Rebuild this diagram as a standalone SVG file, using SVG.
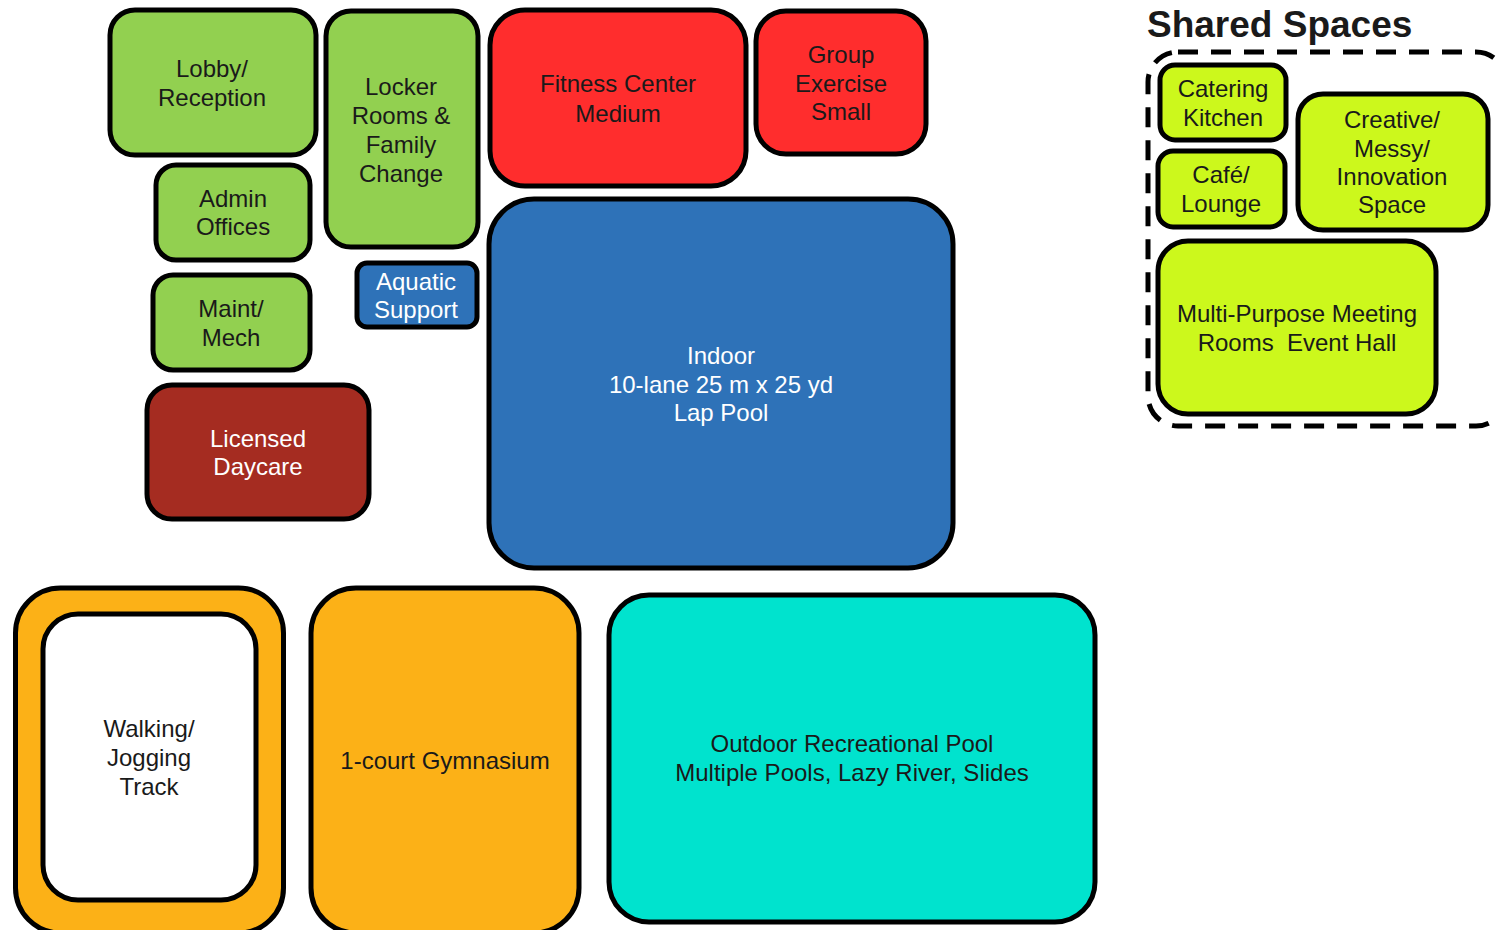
<svg xmlns="http://www.w3.org/2000/svg" width="1496" height="930" viewBox="0 0 1496 930">
<style>
  .box { stroke: #000; stroke-width: 5; }
  .green { fill: #92D050; }
  .red { fill: #FF2D2D; }
  .blue { fill: #2E72B8; }
  .brick { fill: #A52C21; }
  .orange { fill: #FCB117; }
  .teal { fill: #00E3CE; }
  .lime { fill: #CCF81C; }
  .white { fill: #FFFFFF; }
  text { font-family: "Liberation Sans", Arial, sans-serif; font-size: 24px; text-anchor: middle; fill: #1a1a1a; }
  text.lt { fill: #FFFFFF; }
  .title { font-size: 37px; font-weight: bold; text-anchor: start; }
</style>
<rect width="1496" height="930" fill="#FFFFFF"/>

<g id="lobby">
  <rect class="box green" x="110" y="10" width="206" height="145" rx="25"/>
  <text x="212" y="77">Lobby/</text>
  <text x="212" y="106">Reception</text>
</g>
<g id="locker">
  <rect class="box green" x="326" y="11" width="152" height="236" rx="25"/>
  <text x="401" y="95">Locker</text>
  <text x="401" y="124">Rooms &amp;</text>
  <text x="401" y="153">Family</text>
  <text x="401" y="182">Change</text>
</g>
<g id="admin">
  <rect class="box green" x="156" y="165" width="154" height="95" rx="20"/>
  <text x="233" y="207">Admin</text>
  <text x="233" y="235">Offices</text>
</g>
<g id="maint">
  <rect class="box green" x="153" y="275" width="157" height="95" rx="20"/>
  <text x="231" y="317">Maint/</text>
  <text x="231" y="346">Mech</text>
</g>
<g id="aquatic">
  <rect class="box blue" x="357" y="263" width="120" height="64" rx="10"/>
  <text class="lt" x="416" y="290">Aquatic</text>
  <text class="lt" x="416" y="318">Support</text>
</g>
<g id="fitness">
  <rect class="box red" x="490" y="10" width="256" height="176" rx="35"/>
  <text x="618" y="92">Fitness Center</text>
  <text x="618" y="122">Medium</text>
</g>
<g id="group">
  <rect class="box red" x="756" y="11" width="170" height="143" rx="30"/>
  <text x="841" y="63">Group</text>
  <text x="841" y="92">Exercise</text>
  <text x="841" y="120">Small</text>
</g>
<g id="indoor">
  <rect class="box blue" x="489" y="199" width="464" height="369" rx="45"/>
  <text class="lt" x="721" y="364">Indoor</text>
  <text class="lt" x="721" y="393">10-lane 25 m x 25 yd</text>
  <text class="lt" x="721" y="421">Lap Pool</text>
</g>
<g id="daycare">
  <rect class="box brick" x="147" y="385" width="222" height="134" rx="25"/>
  <text class="lt" x="258" y="447">Licensed</text>
  <text class="lt" x="258" y="475">Daycare</text>
</g>

<g id="shared">
  <text class="title" x="1147" y="37">Shared Spaces</text>
  <rect x="1148" y="52" width="358" height="374" rx="30" fill="none" stroke="#000" stroke-width="5" stroke-dasharray="20 13"/>
</g>
<g id="catering">
  <rect class="box lime" x="1160" y="65" width="126" height="75" rx="15"/>
  <text x="1223" y="97">Catering</text>
  <text x="1223" y="126">Kitchen</text>
</g>
<g id="cafe">
  <rect class="box lime" x="1158" y="151" width="127" height="76" rx="15"/>
  <text x="1221" y="183">Café/</text>
  <text x="1221" y="212">Lounge</text>
</g>
<g id="creative">
  <rect class="box lime" x="1298" y="94" width="190" height="136" rx="25"/>
  <text x="1392" y="128">Creative/</text>
  <text x="1392" y="157">Messy/</text>
  <text x="1392" y="185">Innovation</text>
  <text x="1392" y="213">Space</text>
</g>
<g id="multipurpose">
  <rect class="box lime" x="1158" y="241" width="278" height="173" rx="30"/>
  <text x="1297" y="322">Multi-Purpose Meeting</text>
  <text x="1297" y="351" xml:space="preserve" style="white-space:pre">Rooms  Event Hall</text>
</g>

<g id="track">
  <rect class="box orange" x="15.5" y="588" width="268" height="345" rx="45"/>
  <rect class="box white" x="43" y="614" width="213" height="286" rx="35"/>
  <text x="149" y="737">Walking/</text>
  <text x="149" y="766">Jogging</text>
  <text x="149" y="795">Track</text>
</g>
<g id="gym">
  <rect class="box orange" x="311" y="588" width="268" height="345" rx="45"/>
  <text x="445" y="769">1-court Gymnasium</text>
</g>
<g id="outdoor">
  <rect class="box teal" x="609" y="595" width="486" height="327" rx="40"/>
  <text x="852" y="752">Outdoor Recreational Pool</text>
  <text x="852" y="781">Multiple Pools, Lazy River, Slides</text>
</g>
<g id="connectors"></g>
</svg>
